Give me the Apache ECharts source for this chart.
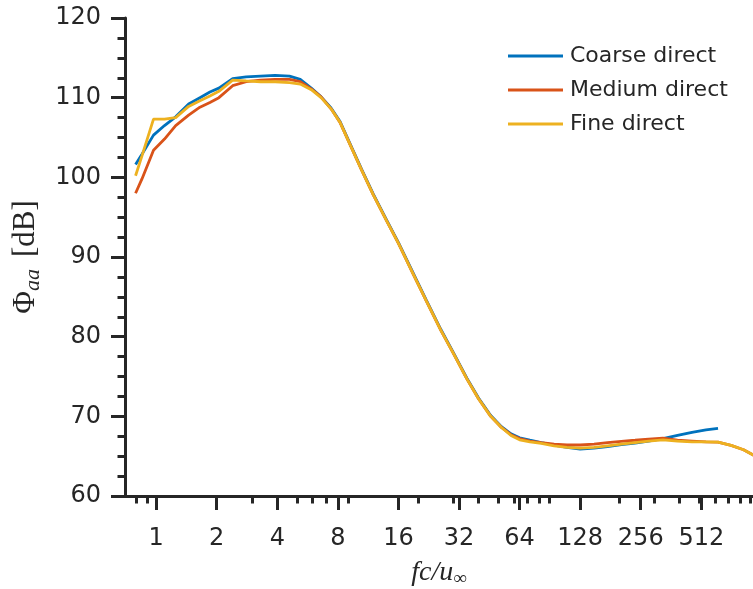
<!DOCTYPE html>
<html><head><meta charset="utf-8">
<script src="https://cdn.jsdelivr.net/npm/echarts@6/dist/echarts.min.js"></script>
<style>html,body{margin:0;padding:0;background:#fff}#c{width:753px;height:589px}</style>
</head><body><div id="c"></div>
<script>
// frequency fc/u_inf (shared sample positions)
const freq = [0.79,0.85,0.97,1.1,1.25,1.45,1.65,1.85,2.05,2.4,2.8,3.3,3.9,4.6,5.2,5.9,6.6,7.4,8.2,9.2,10.5,12,14,16,19,22,26,30,35,40,46,52,58,64,72,82,95,110,128,150,175,205,240,280,330,390,460,540,620,720,830,950];
// Phi_aa [dB]
const coarse = [101.6,102.9,105.3,106.5,107.6,109.2,110.0,110.7,111.2,112.4,112.6,112.7,112.8,112.7,112.3,111.2,110.1,108.7,107.0,104.2,101.0,97.9,94.6,91.8,87.9,84.6,80.9,78.0,74.8,72.3,70.1,68.7,67.8,67.3,67.0,66.7,66.4,66.1,65.9,66.0,66.2,66.45,66.65,66.9,67.2,67.6,68.0,68.3,68.5];
const medium = [98.0,99.8,103.4,104.8,106.5,107.8,108.8,109.4,110.0,111.5,112.0,112.2,112.3,112.3,112.0,111.1,110.1,108.6,106.9,104.1,100.9,97.8,94.5,91.7,87.8,84.5,80.8,77.9,74.7,72.2,70.0,68.6,67.7,67.2,66.9,66.7,66.5,66.4,66.4,66.5,66.7,66.85,67.0,67.15,67.25,67.0,66.9,66.8,66.75,66.35,65.8,65.0];
const fine = [100.2,102.7,107.3,107.3,107.5,108.9,109.6,110.2,110.8,112.2,112.1,112.0,112.0,111.9,111.7,111.0,110.0,108.6,106.9,104.1,100.9,97.8,94.5,91.7,87.8,84.5,80.8,77.9,74.7,72.2,70.0,68.6,67.6,67.05,66.8,66.6,66.3,66.1,66.0,66.1,66.3,66.5,66.7,66.9,67.05,66.9,66.8,66.8,66.75,66.35,65.8,65.0];
const seriesNames = ['Coarse direct','Medium direct','Fine direct'];
const xMajorTicks = [1,2,4,8,16,32,64,128,256,512];
const xMinorTicks = [0.8,0.9,3,5,6,7,9,20,30,40,50,60,70,80,90,200,300,400,500,600,700,800,900];
const yTicks = [60,70,80,90,100,110,120];

const colors = ['#0072BD','#D95319','#EDB120'];
const ink = '#262626';
const sansFont = 'DejaVu Sans';
const serifFont = 'Liberation Serif';
const xMin = 0.7, xMax = 925;

function pairs(ys){ return ys.map((y,i)=>[freq[i], y]); }

const chart = echarts.init(document.getElementById('c'), null, {renderer:'canvas'});
chart.setOption({
  animation:false,
  backgroundColor:'#fff',
  color:colors,
  grid:{left:125,right:0,top:18,bottom:93,containLabel:false,outerBoundsMode:'none'},
  legend:{
    orient:'vertical', left:508, top:44, padding:0, icon:'rect', itemWidth:55, itemHeight:3,
    itemGap:10,
    textStyle:{fontFamily:sansFont,fontSize:22,color:ink,lineHeight:24,padding:[0,0,0,2]},
    data:seriesNames
  },
  xAxis:[{
    type:'log', logBase:2, min:xMin, max:xMax, position:'bottom',
    name:'{i|fc/u}{s|∞}', nameLocation:'middle', nameGap:61,
    nameTextStyle:{rich:{
      i:{fontFamily:serifFont,fontStyle:'italic',fontSize:28,color:ink,lineHeight:32},
      s:{fontFamily:serifFont,fontSize:19,color:ink,verticalAlign:'bottom',lineHeight:24}
    }},
    axisLine:{show:true,lineStyle:{color:ink,width:3}},
    axisTick:{show:true,inside:false,length:14,lineStyle:{color:ink,width:3},customValues:xMajorTicks},
    axisLabel:{show:true,margin:31,fontFamily:sansFont,fontSize:24,color:ink,customValues:xMajorTicks,
      formatter:v=>String(Math.round(v))},
    splitLine:{show:false}, minorTick:{show:false}
  },{
    type:'log', logBase:2, min:xMin, max:xMax, position:'bottom', gridIndex:0,
    axisLine:{show:false},
    axisTick:{show:true,inside:false,length:7.5,lineStyle:{color:ink,width:3},customValues:xMinorTicks},
    axisLabel:{show:false}, splitLine:{show:false}
  }],
  yAxis:{
    type:'value', min:60, max:120, interval:10,
    name:'{p|Φ}{s|aa}{g| }{n|[dB]}', nameLocation:'middle', nameGap:80,
    nameTextStyle:{rich:{
      p:{fontFamily:serifFont,fontSize:31,color:ink,lineHeight:36},
      s:{fontFamily:serifFont,fontStyle:'italic',fontSize:22,color:ink,verticalAlign:'bottom',lineHeight:28},
      g:{fontFamily:serifFont,fontSize:31,width:12,lineHeight:36},
      n:{fontFamily:serifFont,fontSize:31,color:ink,lineHeight:36}
    }},
    axisLine:{show:true,lineStyle:{color:ink,width:3}},
    axisTick:{show:true,inside:false,length:14,lineStyle:{color:ink,width:3}},
    minorTick:{show:true,splitNumber:4,length:7.5,lineStyle:{color:ink,width:3}},
    axisLabel:{margin:24,fontFamily:sansFont,fontSize:24,color:ink,customValues:yTicks},
    splitLine:{show:false}, minorSplitLine:{show:false}
  },
  series:[
    {name:seriesNames[0],type:'line',data:pairs(coarse),showSymbol:false,symbol:'none',lineStyle:{width:2.8},clip:true},
    {name:seriesNames[1],type:'line',data:pairs(medium),showSymbol:false,symbol:'none',lineStyle:{width:2.8},clip:true},
    {name:seriesNames[2],type:'line',data:pairs(fine),showSymbol:false,symbol:'none',lineStyle:{width:2.8},clip:true}
  ]
});
</script></body></html>
